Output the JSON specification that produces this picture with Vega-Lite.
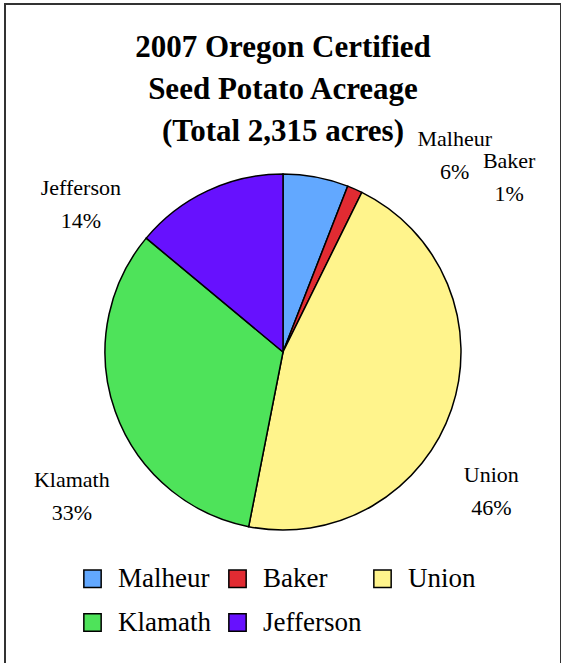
{
  "$schema": "https://vega.github.io/schema/vega-lite/v6.json",
  "width": 556,
  "height": 696,
  "autosize": {"type": "none"},
  "padding": {"left": 5, "top": 4, "right": 0, "bottom": 0},
  "background": "white",
  "view": {"stroke": "#333333", "strokeWidth": 2, "fill": "white"},
  "title": {
    "text": ["2007 Oregon Certified", "Seed Potato Acreage", "(Total 2,315 acres)"],
    "font": "Liberation Serif",
    "fontSize": 31,
    "fontWeight": "bold",
    "color": "black",
    "lineHeight": 42,
    "offset": -144,
    "anchor": "middle",
    "frame": "group"
  },
  "data": {
    "values": [
      {"county": "Malheur", "acres": 137},
      {"county": "Baker", "acres": 32},
      {"county": "Union", "acres": 1060},
      {"county": "Klamath", "acres": 763},
      {"county": "Jefferson", "acres": 323}
    ]
  },
  "transform": [
    {"window": [{"op": "row_number", "as": "rank"}]},
    {"joinaggregate": [{"op": "sum", "field": "acres", "as": "total"}]},
    {"calculate": "datum.county + '\\n' + format(datum.acres / datum.total, '.0%')", "as": "label"}
  ],
  "layer": [
    {
      "mark": {"type": "arc", "outerRadius": 178, "stroke": "black", "strokeWidth": 1.5},
      "encoding": {
        "theta": {"field": "acres", "type": "quantitative", "stack": true},
        "order": {"field": "rank", "type": "quantitative"},
        "color": {
          "field": "county",
          "type": "nominal",
          "sort": ["Malheur", "Baker", "Union", "Klamath", "Jefferson"],
          "scale": {
            "domain": ["Malheur", "Baker", "Union", "Klamath", "Jefferson"],
            "range": ["#62a8ff", "#e12b32", "#fff48c", "#4ee35a", "#6711fe"]
          },
          "legend": {
            "orient": "bottom",
            "title": null,
            "offset": -209,
            "padding": 74,
            "columns": 3,
            "gridAlign": "all",
            "direction": "horizontal",
            "labelFont": "Liberation Serif",
            "labelFontSize": 27,
            "labelColor": "black",
            "labelLimit": 300,
            "labelOffset": 12,
            "symbolType": "square",
            "symbolSize": 300,
            "symbolStrokeColor": "black",
            "symbolStrokeWidth": 1.5,
            "symbolOpacity": 1,
            "columnPadding": 7,
            "rowPadding": 16
          }
        }
      }
    },
    {
      "mark": {
        "type": "text",
        "font": "Liberation Serif",
        "fontSize": 22,
        "lineBreak": "\n",
        "lineHeight": 33,
        "color": "black",
        "align": "center",
        "baseline": "middle"
      },
      "encoding": {
        "theta": {"field": "acres", "type": "quantitative", "stack": true, "scale": {"domain": [0, 2315], "nice": false, "range": [0.5236, 5.7596]}},
        "order": {"field": "rank", "type": "quantitative"},
        "radius": {"field": "acres", "type": "quantitative", "scale": {"type": "log", "domain": [32, 1063], "range": [296, 242], "nice": false, "zero": false}},
        "text": {"field": "label"}
      }
    }
  ],
  "resolve": {"scale": {"theta": "independent"}},
  "config": {
    "view": {"stroke": "#333333", "strokeWidth": 2}
  }
}
